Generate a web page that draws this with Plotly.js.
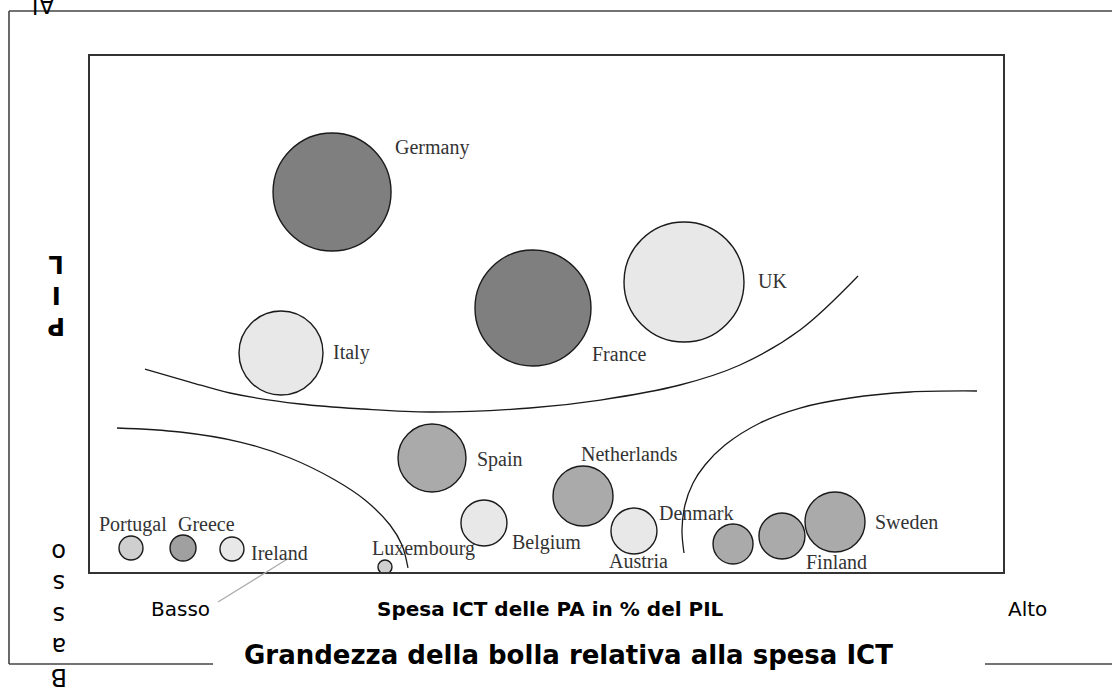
<!DOCTYPE html>
<html>
<head>
<meta charset="utf-8">
<script src="https://cdn.plot.ly/plotly-3.0.1.min.js"></script>
<style>html,body{margin:0;padding:0;background:#fff}#chart{width:1112px;height:689px}</style>
</head>
<body>
<div id="chart"></div>
<script>
// ---- Data ----
const paesi = ["Germany","Italy","France","UK","Spain","Netherlands","Belgium","Austria","Luxembourg","Denmark","Finland","Sweden","Portugal","Greece","Ireland"];
// x: spesa ICT delle PA in % del PIL (0-100 scale, no ticks shown)
const spesaPIL = [26.51, 20.92, 48.52, 65.06, 37.46, 54.00, 43.15, 59.58, 32.31, 70.43, 75.79, 81.60, 4.49, 10.19, 15.55];
// y: PIL (0-100 scale)
const pil = [73.64, 42.44, 51.16, 56.20, 22.09, 14.73, 9.50, 7.95, 0.97, 5.43, 6.98, 9.69, 4.65, 4.65, 4.46];
// bubble magnitude: spesa ICT
const spesaICT = [59, 42, 58, 60, 34, 30, 23, 23, 7, 20, 23, 30, 12, 13, 12];
// shade group of each bubble
const gruppo = ["scuro","chiaro","scuro","chiaro","medio","medio","chiaro","chiaro","tenue","medio","medio","medio","tenue","medio2","chiaro"];

// separator curves
const curvaAltaX = [6.02, 10.95, 15.33, 23.00, 29.90, 37.24, 48.19, 55.89, 64.62, 71.19, 77.77, 84.12];
const curvaAltaY = [39.34, 36.82, 34.69, 32.56, 31.59, 31.01, 31.78, 33.33, 36.24, 40.12, 46.90, 57.36];
const curvaSxX = [2.96, 9.86, 16.43, 21.91, 26.83, 30.12, 32.86, 34.17, 34.83];
const curvaSxY = [27.91, 27.13, 25.19, 22.09, 17.83, 13.95, 9.11, 5.23, 0.78];
const curvaDxX = [65.06, 64.84, 65.17, 66.05, 67.36, 69.55, 73.38, 77.77, 83.24, 89.81, 97.15];
const curvaDxY = [3.68, 8.14, 12.98, 17.25, 20.74, 24.61, 28.88, 31.78, 33.72, 34.88, 35.08];

// ---- Styles ----
const coloreGruppo = {scuro:"#7f7f7f", medio:"#aaaaaa", medio2:"#a0a0a0", chiaro:"#e8e8e8", tenue:"#cfcfcf"};
// label offsets in px relative to bubble centre
const etichetta = {
  Germany:[61,45], Italy:[50,1], France:[57,-46], UK:[72,1], Spain:[43,-1],
  Netherlands:[-4,42], Belgium:[26,-20], Austria:[-27,-30], Luxembourg:[-15,18],
  Denmark:[-76,31], Finland:[22,-26], Sweden:[38,0], Portugal:[-34,24], Greece:[-7,24], Ireland:[17,-4]
};

const curveStyle = {color:"#1a1a1a", width:1.3, shape:"spline", smoothing:1};
const traces = [
  {x:curvaAltaX, y:curvaAltaY, mode:"lines", line:curveStyle, hoverinfo:"skip"},
  {x:curvaSxX, y:curvaSxY, mode:"lines", line:curveStyle, hoverinfo:"skip"},
  {x:curvaDxX, y:curvaDxY, mode:"lines", line:curveStyle, hoverinfo:"skip"},
  {x:spesaPIL, y:pil, mode:"markers", text:paesi, hoverinfo:"text",
   marker:{size:spesaICT, sizemode:"diameter", sizeref:0.5,
           color:gruppo.map(g=>coloreGruppo[g]), opacity:1,
           line:{color:"#1a1a1a", width:1.4}}}
];

const serif = {family:"Liberation Serif, Times New Roman, serif", size:20, color:"#333"};
const annotations = paesi.map((p,i)=>({
  x:spesaPIL[i], y:pil[i], xref:"x", yref:"y", text:p, showarrow:false,
  xanchor:"left", yanchor:"middle", xshift:etichetta[p][0], yshift:etichetta[p][1], font:serif
}));

const sans = "DejaVu Sans, Verdana, sans-serif";
function px2paperX(v){return (v-90)/913;}
function px2paperY(v){return (572-v)/516;}
function paperLabel(cx, cy, text, size, angle){
  return {xref:"paper", yref:"paper", x:px2paperX(cx), y:px2paperY(cy), text:text,
    xanchor:"center", yanchor:"middle", textangle:angle||0, showarrow:false,
    font:{family:sans, size:size, color:"#000"}};
}
annotations.push(
  paperLabel(180, 609, "Basso", 20),
  paperLabel(550, 609, "<b>Spesa ICT delle PA in % del PIL</b>", 20),
  paperLabel(1027, 609, "Alto", 20),
  paperLabel(568, 655, "<b>Grandezza della bolla relativa alla spesa ICT</b>", 26),
  paperLabel(56, 295, "<b>P<br>I<br>L</b>", 24, 180),
  paperLabel(59, 615, "B<br>a<br>s<br>s<br>o", 24, 180),
  paperLabel(44, 4, "Al", 24, 180)
);

const frame = {color:"#444", width:1.6};
const shapes = [
  {type:"line", xref:"paper", yref:"paper", x0:px2paperX(9), x1:px2paperX(9), y0:px2paperY(11), y1:px2paperY(664), line:frame},
  {type:"line", xref:"paper", yref:"paper", x0:px2paperX(9), x1:px2paperX(1112), y0:px2paperY(11), y1:px2paperY(11), line:frame},
  {type:"line", xref:"paper", yref:"paper", x0:px2paperX(9), x1:px2paperX(213), y0:px2paperY(664), y1:px2paperY(664), line:frame},
  {type:"line", xref:"paper", yref:"paper", x0:px2paperX(985), x1:px2paperX(1112), y0:px2paperY(664), y1:px2paperY(664), line:frame},
  {type:"line", xref:"paper", yref:"paper", x0:px2paperX(218), x1:px2paperX(289), y0:px2paperY(602), y1:px2paperY(558), line:{color:"#aaa", width:1.2}}
];

const axisBase = {range:[0,100], showline:true, mirror:true, linecolor:"#333", linewidth:2,
  showgrid:false, zeroline:false, showticklabels:false, ticks:"", fixedrange:true};

const layout = {
  width:1112, height:689,
  margin:{l:90, r:109, t:56, b:117, pad:0},
  paper_bgcolor:"#fff", plot_bgcolor:"#fff",
  showlegend:false, hovermode:false,
  xaxis:Object.assign({}, axisBase),
  yaxis:Object.assign({}, axisBase),
  annotations:annotations, shapes:shapes
};

Plotly.newPlot("chart", traces, layout, {displayModeBar:false, staticPlot:true});
</script>
</body>
</html>
